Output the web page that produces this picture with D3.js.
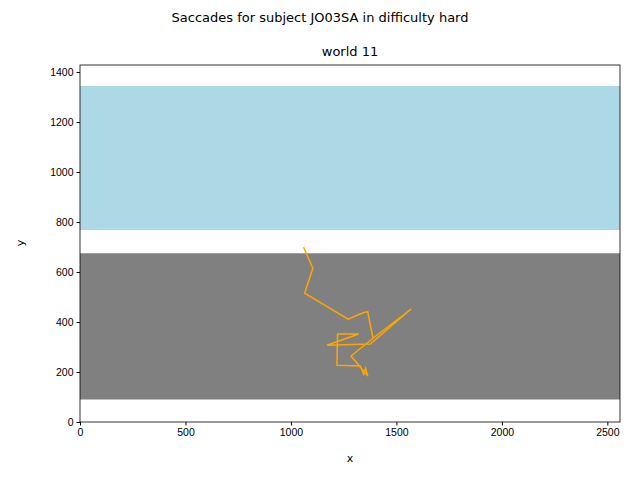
<!DOCTYPE html>
<html><head><meta charset="utf-8">
<script src="https://d3js.org/d3.v7.min.js"></script>
<style>body{margin:0;background:#fff}svg{font-family:"DejaVu Sans",sans-serif}</style>
</head><body>
<script>
var xs = [1060,1104,1065,1271,1342,1364,1389,1570,1376,1171,1321,1221,1218,1329,1345,1354,1364,1285,1389];
var ys = [699,615,515,411,437,441,335,452,312,307,352,352,227,224,192,215,184,264,335];
var regionColors = ['#808080', '#add8e6'];
var regionY0 = [90, 768];
var regionY1 = [675, 1344];
var xTicks = [0,500,1000,1500,2000,2500];
var yTicks = [0,200,400,600,800,1000,1200,1400];

var W = 640, H = 480, m = {top: 65, right: 20, bottom: 58, left: 80};
var svg = d3.select('body').append('svg').attr('width', W).attr('height', H);
var x = d3.scaleLinear().domain([0, 2560]).range([m.left, W - m.right]);
var y = d3.scaleLinear().domain([0, 1428]).range([H - m.bottom, m.top]);

svg.selectAll('rect.reg').data(regionColors).enter().append('rect')
    .attr('x', x(0)).attr('width', x(2560) - x(0))
    .attr('y', function(d, i) { return y(regionY1[i]); })
    .attr('height', function(d, i) { return y(regionY0[i]) - y(regionY1[i]); })
    .attr('fill', function(d) { return d; });

svg.append('path').datum(xs)
    .attr('d', d3.line().x(function(d) { return x(d); }).y(function(d, i) { return y(ys[i]); }))
    .attr('fill', 'none').attr('stroke', 'orange').attr('stroke-width', 1.5);

svg.append('rect').attr('x', m.left).attr('y', m.top)
    .attr('width', W - m.left - m.right).attr('height', H - m.top - m.bottom)
    .attr('fill', 'none').attr('stroke', '#000').attr('stroke-width', 0.8);

svg.append('g').attr('transform', 'translate(0,' + (H - m.bottom) + ')')
    .call(d3.axisBottom(x).tickValues(xTicks).tickFormat(d3.format('d')).tickSize(3.5).tickSizeOuter(0))
    .call(function(g) { g.select('.domain').remove(); g.selectAll('text').attr('font-size', 10.5).attr('fill', '#000'); });
svg.append('g').attr('transform', 'translate(' + m.left + ',0)')
    .call(d3.axisLeft(y).tickValues(yTicks).tickFormat(d3.format('d')).tickSize(3.5).tickSizeOuter(0))
    .call(function(g) { g.select('.domain').remove(); g.selectAll('text').attr('font-size', 10.5).attr('fill', '#000'); });

svg.append('text').attr('x', 350).attr('y', 462).attr('text-anchor', 'middle').attr('font-size', 11).text('x');
svg.append('text').attr('transform', 'translate(24,243) rotate(-90)').attr('text-anchor', 'middle').attr('font-size', 11).text('y');
svg.append('text').attr('x', 350).attr('y', 56).attr('text-anchor', 'middle').attr('font-size', 13).text('world 11');
svg.append('text').attr('x', 320).attr('y', 22).attr('text-anchor', 'middle').attr('font-size', 13).text('Saccades for subject JO03SA in difficulty hard');
</script>
</body></html>
